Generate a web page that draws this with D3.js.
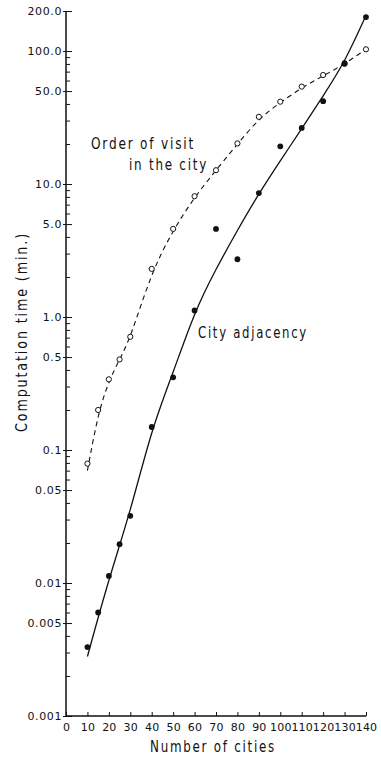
<!DOCTYPE html>
<html>
<head>
<meta charset="utf-8">
<script src="https://cdn.jsdelivr.net/npm/d3@7"></script>
<style>
  body { margin: 0; background: #fff; }
  svg text { font-family: "DejaVu Sans", sans-serif; fill: #111; }
</style>
</head>
<body>
<script>
// aantal steden (x) en rekentijd in minuten (y)
const cities = [10, 15, 20, 25, 30, 40, 50, 60, 70, 80, 90, 100, 110, 120, 130, 140];
const orderTimes = [0.079, 0.20, 0.34, 0.48, 0.71, 2.3, 4.6, 8.1, 12.7, 20.2, 32, 41.6, 54, 66, 80, 103];
const adjacencyTimes = [0.0033, 0.006, 0.0113, 0.0196, 0.032, 0.149, 0.352, 1.12, 4.6, 2.72, 8.55, 19.2, 26.4, 42, 81, 180];

// getekende krommes door de punten
const orderFitX = [10, 15, 20, 25, 30, 40, 50, 60, 70, 80, 90, 100, 110, 120, 130, 140];
const orderFitY = [0.07, 0.19, 0.33, 0.48, 0.69, 2.2, 4.5, 8.0, 12.7, 20, 31, 41, 53, 65, 80, 103];
const adjacencyFitX = [10, 20, 30, 40, 50, 60, 70, 80, 90, 100, 110, 120, 130, 140];
const adjacencyFitY = [0.0028, 0.0108, 0.034, 0.145, 0.38, 1.1, 2.3, 4.5, 8.5, 15, 26, 46, 82, 185];

// as-labels
const xTicks = [0, 10, 20, 30, 40, 50, 60, 70, 80, 90, 100, 110, 120, 130, 140];
const yLabelValues = [0.001, 0.005, 0.01, 0.05, 0.1, 0.5, 1, 5, 10, 50, 100, 200];
const yLabelTexts = ["0.001", "0.005", "0.01", "0.05", "0.1", "0.5", "1.0", "5.0", "10.0", "50.0", "100.0", "200.0"];
const yMinorTicks = [];
[0.001, 0.01, 0.1, 1, 10, 100].forEach(d => {
  for (let m = 1; m <= 9; m++) {
    const v = +(d * m).toPrecision(3);
    if (v <= 200) yMinorTicks.push(v);
  }
});

const width = 381, height = 758;
const svg = d3.select('body').append('svg')
  .attr('width', width)
  .attr('height', height);

const x = d3.scaleLinear().domain([0, 140]).range([66, 366]);
const y = d3.scaleLog().domain([0.001, 200]).range([716, 11]);

// y-as met kleine streepjes naar binnen
const gy = svg.append('g').attr('transform', `translate(${x(0)},0)`);
gy.call(d3.axisLeft(y).tickValues(yMinorTicks).tickSize(-4).tickFormat(''));
gy.selectAll('.tick line')
  .attr('x1', d => yLabelValues.includes(d) ? -3 : 0)
  .attr('x2', d => yLabelValues.includes(d) ? 6 : 4);
gy.select('.domain').attr('d', `M0,${y(0.001)}V${y(200)}`);

gy.selectAll('.label').data(yLabelValues).join('text')
  .attr('class', 'label')
  .attr('x', -4)
  .attr('y', d => y(d))
  .attr('dy', '0.36em')
  .attr('text-anchor', 'end')
  .style('font-size', '11px')
  .style('letter-spacing', '0.6px')
  .text((d, i) => yLabelTexts[i]);

// x-as
const gx = svg.append('g').attr('transform', `translate(0,${y(0.001)})`);
gx.call(d3.axisBottom(x).tickValues(xTicks).tickSize(-4).tickPadding(7).tickFormat(d => d));
gx.select('.domain').attr('d', `M${x(0)},0H${x(140)}`);
gx.selectAll('.tick text')
  .style('font-size', '11px')
  .style('letter-spacing', '0.2px')
  .attr('font-family', null);

svg.selectAll('.domain').attr('stroke', '#111').attr('stroke-width', 1.5);
svg.selectAll('.tick line').attr('stroke', '#111').attr('stroke-width', 1);

// krommes
const line = d3.line()
  .x(d => x(d[0]))
  .y(d => y(d[1]))
  .curve(d3.curveBasis);

svg.append('path')
  .datum(orderFitX.map((d, i) => [d, orderFitY[i]]))
  .attr('fill', 'none')
  .attr('stroke', '#111')
  .attr('stroke-width', 1.1)
  .attr('stroke-dasharray', '5,4')
  .attr('d', line);

svg.append('path')
  .datum(adjacencyFitX.map((d, i) => [d, adjacencyFitY[i]]))
  .attr('fill', 'none')
  .attr('stroke', '#111')
  .attr('stroke-width', 1.3)
  .attr('d', line);

// punten
svg.selectAll('.open').data(cities).join('circle')
  .attr('class', 'open')
  .attr('cx', d => x(d))
  .attr('cy', (d, i) => y(orderTimes[i]))
  .attr('r', 2.6)
  .attr('fill', '#fff')
  .attr('stroke', '#111')
  .attr('stroke-width', 1);

svg.selectAll('.filled').data(cities).join('circle')
  .attr('class', 'filled')
  .attr('cx', d => x(d))
  .attr('cy', (d, i) => y(adjacencyTimes[i]))
  .attr('r', 2.9)
  .attr('fill', '#111');

// teksten (smal lettertype nagebootst met textLength)
function label(txt, xPos, yPos, len, anchor) {
  return svg.append('text')
    .attr('x', xPos).attr('y', yPos)
    .attr('text-anchor', anchor || 'start')
    .attr('textLength', len)
    .attr('lengthAdjust', 'spacingAndGlyphs')
    .style('font-size', '15px')
    .style('letter-spacing', '2.2px')
    .text(txt);
}
label('Order of visit', 91, 149, 104);
label('in the city', 129, 170, 79);
label('City adjacency', 198, 338, 110);
label('Number of cities', 213, 752, 126, 'middle');
label('Computation time  (min.)', 0, 0, 200, 'middle')
  .attr('transform', 'translate(27,332) rotate(-90)');
</script>
</body>
</html>
